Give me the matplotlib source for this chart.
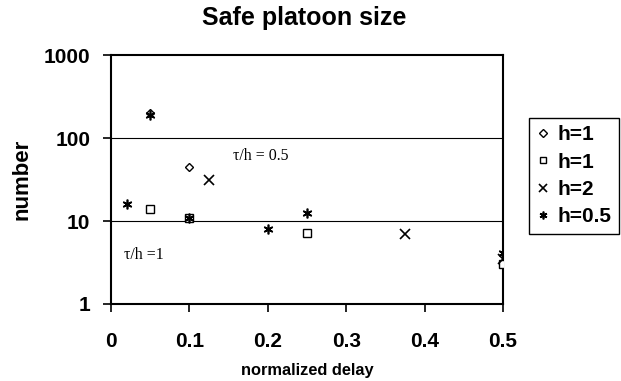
import matplotlib.pyplot as plt
from matplotlib.ticker import FixedLocator, NullLocator

# data (normalized delay, safe platoon size)
h1_diamond_x = [0.05, 0.1]
h1_diamond_y = [200, 45]
h1_square_x = [0.05, 0.1, 0.25, 0.5]
h1_square_y = [14, 11, 7.2, 3.0]
h2_x = [0.125, 0.375, 0.5]
h2_y = [31, 7.0, 3.5]
h05_x = [0.02, 0.05, 0.1, 0.2, 0.25, 0.5]
h05_y = [16, 190, 11, 8, 12.5, 4.1]

x_ticks = [0, 0.1, 0.2, 0.3, 0.4, 0.5]
y_ticks = [1, 10, 100, 1000]

plt.rcParams['font.family'] = ['Liberation Sans', 'DejaVu Sans']

fig = plt.figure(figsize=(6.21, 3.81), dpi=100)
ax = fig.add_axes([0.1787, 0.2021, 0.6313, 0.6535])

# horizontal gridlines at 10 and 100
for g in [10, 100]:
    ax.axhline(g, color='black', lw=0.8, zorder=1)

ax.plot(h1_diamond_x, h1_diamond_y, ls='none', marker='D', ms=4.5, mfc='white',
        mec='black', mew=1.0, label='h=1', zorder=3)
ax.plot(h1_square_x, h1_square_y, ls='none', marker='s', ms=6, mfc='white',
        mec='black', mew=1.0, label='h=1', zorder=3)
ax.plot(h2_x, h2_y, ls='none', marker='x', ms=7, color='black', mew=1.2,
        label='h=2', zorder=3)
ax.plot(h05_x, h05_y, ls='none', marker=(6, 2, 0), ms=7, color='black', mew=1.2,
        label='h=0.5', zorder=3)

ax.set_yscale('log')
ax.set_xlim(0, 0.5)
ax.set_ylim(1, 1000)
ax.xaxis.set_major_locator(FixedLocator(x_ticks))
ax.yaxis.set_major_locator(FixedLocator(y_ticks))
ax.yaxis.set_minor_locator(NullLocator())
ax.set_xticklabels(['0', '0.1', '0.2', '0.3', '0.4', '0.5'])
ax.set_yticklabels(['1', '10', '100', '1000'])
ax.tick_params(axis='both', direction='out', length=6, width=1.2, labelsize=15)
ax.tick_params(axis='x', pad=14)
ax.tick_params(axis='y', pad=9)
for lbl in ax.get_xticklabels() + ax.get_yticklabels():
    lbl.set_fontweight('bold')
for s in ax.spines.values():
    s.set_linewidth(1.5)

ax.set_xlabel('normalized delay', fontsize=11.8, fontweight='bold', labelpad=9)
ax.set_ylabel('number', fontsize=16, fontweight='bold', labelpad=8)
fig.text(0.49, 0.953, 'Safe platoon size', ha='center', va='center',
         fontsize=18, fontweight='bold')

# annotations in serif
ax.text(0.156, 60, '\u03c4/h = 0.5', fontsize=11.4,
        family=['Liberation Serif', 'DejaVu Serif'], ha='left', va='center')
ax.text(0.017, 3.9, '\u03c4/h =1', fontsize=11.4,
        family=['Liberation Serif', 'DejaVu Serif'], ha='left', va='center')

leg = ax.legend(loc='upper left', bbox_to_anchor=(0.852, 0.69), bbox_transform=fig.transFigure,
                frameon=True, fancybox=False, edgecolor='black', framealpha=1,
                prop={'weight': 'bold', 'size': 15}, handlelength=0.6,
                handletextpad=0.4, labelspacing=0.4, borderpad=0.35,
                markerscale=0.8, borderaxespad=0)
leg.get_frame().set_linewidth(1.0)

fig.savefig('out.png', dpi=100)
